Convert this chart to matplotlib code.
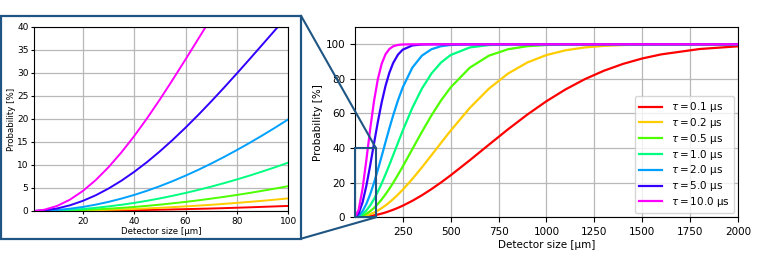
import matplotlib
matplotlib.use("Agg")
import matplotlib.pyplot as plt
from matplotlib.patches import Rectangle, ConnectionPatch

# labels and colours of the seven curves
labels = [r"$\tau = 0.1$ µs", r"$\tau = 0.2$ µs", r"$\tau = 0.5$ µs", r"$\tau = 1.0$ µs",
          r"$\tau = 2.0$ µs", r"$\tau = 5.0$ µs", r"$\tau = 10.0$ µs"]
colors = ["#ff0000", "#ffcc00", "#4dff00", "#00ff80", "#00a0ff", "#3300ff", "#ff00ff"]

# main panel: detector size [um] vs probability [%]
x_main = [1, 20, 40, 60, 80, 100, 120, 140, 160, 180, 200, 225, 250, 300, 350, 400, 450,
          500, 600, 700, 800, 900, 1000, 1100, 1200, 1300, 1400, 1500, 1600, 1800, 2000]
p_01 = [0, 0.04, 0.18, 0.40, 0.71, 1.10, 1.59, 2.15, 2.80, 3.54, 4.35, 5.47, 6.71, 9.52,
        12.73, 16.29, 20.15, 24.25, 32.97, 41.98, 50.89, 59.34, 67.08, 73.93, 79.81, 84.71,
        88.67, 91.79, 94.18, 97.27, 98.83]
p_02 = [0, 0.11, 0.44, 1.00, 1.76, 2.74, 3.92, 5.30, 6.86, 8.61, 10.52, 13.12, 15.94, 22.12,
        28.84, 35.88, 43.02, 50.07, 63.21, 74.36, 83.10, 89.46, 93.78, 96.53, 98.17, 99.09,
        99.57, 99.81, 99.92, 99.99, 100.0]
p_05 = [0, 0.22, 0.88, 1.98, 3.49, 5.40, 7.69, 10.32, 13.26, 16.47, 19.93, 24.52, 29.33,
        39.35, 49.36, 58.89, 67.53, 75.06, 86.47, 93.43, 97.14, 98.89, 99.61, 99.88, 99.97,
        99.99, 100.0, 100.0, 100.0, 100.0, 100.0]
p_1 = [0, 0.44, 1.76, 3.92, 6.86, 10.52, 14.79, 19.57, 24.76, 30.23, 35.88, 43.02, 50.07,
       63.21, 74.36, 83.10, 89.46, 93.78, 98.17, 99.57, 99.92, 99.99, 100.0, 100.0, 100.0,
       100.0, 100.0, 100.0, 100.0, 100.0, 100.0]
p_2 = [0, 0.88, 3.49, 7.69, 13.26, 19.93, 27.39, 35.31, 43.39, 51.32, 58.89, 67.53, 75.06,
       86.47, 93.43, 97.14, 98.89, 99.61, 99.97, 100.0, 100.0, 100.0, 100.0, 100.0, 100.0,
       100.0, 100.0, 100.0, 100.0, 100.0, 100.0]
p_5 = [0, 2.20, 8.51, 18.13, 29.92, 42.62, 55.07, 66.34, 75.88, 83.47, 89.16, 93.99, 96.89,
       99.33, 99.89, 99.99, 100.0, 100.0, 100.0, 100.0, 100.0, 100.0, 100.0, 100.0, 100.0,
       100.0, 100.0, 100.0, 100.0, 100.0, 100.0]
p_10 = [0, 4.35, 16.29, 32.97, 50.89, 67.08, 79.81, 88.67, 94.18, 97.27, 98.83, 99.64, 99.90,
        100.0, 100.0, 100.0, 100.0, 100.0, 100.0, 100.0, 100.0, 100.0, 100.0, 100.0, 100.0,
        100.0, 100.0, 100.0, 100.0, 100.0, 100.0]
main_series = [p_01, p_02, p_05, p_1, p_2, p_5, p_10]

# zoomed panel: first 100 um
x_zoom = [1, 5, 10, 15, 20, 25, 30, 35, 40, 45, 50, 55, 60, 65, 70, 75, 80, 85, 90, 95, 100]
z_01 = [0, 0.00, 0.01, 0.02, 0.04, 0.07, 0.10, 0.14, 0.18, 0.22, 0.28, 0.34, 0.40, 0.47,
        0.54, 0.62, 0.71, 0.80, 0.90, 1.00, 1.10]
z_02 = [0, 0.01, 0.03, 0.06, 0.11, 0.17, 0.25, 0.34, 0.44, 0.56, 0.69, 0.84, 1.00, 1.17,
        1.35, 1.55, 1.76, 1.99, 2.22, 2.47, 2.74]
z_05 = [0, 0.01, 0.06, 0.12, 0.22, 0.35, 0.50, 0.68, 0.88, 1.12, 1.38, 1.67, 1.98, 2.32,
        2.69, 3.08, 3.49, 3.93, 4.40, 4.89, 5.40]
z_1 = [0, 0.03, 0.11, 0.25, 0.44, 0.69, 1.00, 1.35, 1.76, 2.22, 2.74, 3.31, 3.92, 4.59,
       5.30, 6.06, 6.86, 7.71, 8.61, 9.54, 10.52]
z_2 = [0, 0.06, 0.22, 0.50, 0.88, 1.38, 1.98, 2.69, 3.49, 4.40, 5.40, 6.50, 7.69, 8.96,
       10.32, 11.75, 13.26, 14.83, 16.47, 18.17, 19.93]
z_5 = [0, 0.14, 0.55, 1.24, 2.20, 3.41, 4.88, 6.58, 8.51, 10.64, 12.97, 15.47, 18.13, 20.92,
       23.83, 26.84, 29.92, 33.06, 36.24, 39.43, 42.62]
z_10 = [0, 0.28, 1.10, 2.47, 4.35, 6.71, 9.52, 12.73, 16.29, 20.15, 24.25, 28.55, 32.97,
        37.47, 41.98, 46.47, 50.89, 55.19, 59.34, 63.31, 67.08]
zoom_series = [z_01, z_02, z_05, z_1, z_2, z_5, z_10]

frame_color = "#1f5582"

fig = plt.figure(figsize=(7.63, 2.62), dpi=100)

# main axes
ax = fig.add_axes([0.4653, 0.1706, 0.5019, 0.7264])
for p, c, lab in zip(main_series, colors, labels):
    ax.plot(x_main, p, color=c, lw=1.6, label=lab)
ax.set_xlim(1, 2000)
ax.set_ylim(0, 110)
ax.set_xticks([250, 500, 750, 1000, 1250, 1500, 1750, 2000])
ax.set_yticks([0, 20, 40, 60, 80, 100])
ax.grid(True, color="#b8b8b8", lw=0.9)
ax.tick_params(labelsize=7.5)
ax.set_xlabel("Detector size [µm]", fontsize=7.5, labelpad=2)
ax.set_ylabel("Probability [%]", fontsize=7.5, labelpad=2)
ax.legend(loc="lower right", fontsize=7.5, handlelength=2.2, labelspacing=0.17,
          borderpad=0.4, handletextpad=0.8, borderaxespad=0.4)

# zoom rectangle on main axes
rect = Rectangle((0, 0), 110, 40, fill=False, edgecolor=frame_color, lw=1.5,
                 clip_on=False, zorder=5)
ax.add_patch(rect)

# inset axes
axz = fig.add_axes([0.0446, 0.1947, 0.3333, 0.7023])
for p, c in zip(zoom_series, colors):
    axz.plot(x_zoom, p, color=c, lw=1.4)
axz.set_xlim(1, 100)
axz.set_ylim(0, 40)
axz.set_xticks([20, 40, 60, 80, 100])
axz.set_yticks(range(0, 41, 5))
axz.grid(True, color="#b8b8b8", lw=0.9)
axz.tick_params(labelsize=6.5, length=2.5, pad=1.5)
axz.set_xlabel("Detector size [µm]", fontsize=6.2, labelpad=1)
axz.set_ylabel("Probability [%]", fontsize=6.2, labelpad=1)

# frame round the inset
x0, x1 = 1.5 / 763, 301 / 763
y0, y1 = (262 - 238.7) / 262, (262 - 15.7) / 262
fig.patches.append(Rectangle((x0, y0), x1 - x0, y1 - y0, transform=fig.transFigure,
                             fill=False, edgecolor=frame_color, lw=1.6))

# connectors from inset frame to zoom rectangle
for fy, dy in [(y1, 40), (y0, 0)]:
    con = ConnectionPatch(xyA=(x1, fy), coordsA=fig.transFigure,
                          xyB=(110, dy), coordsB=ax.transData,
                          color=frame_color, lw=1.5)
    fig.add_artist(con)

fig.savefig("out.png", dpi=100)
